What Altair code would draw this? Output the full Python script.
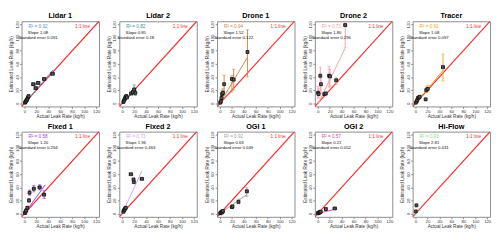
import altair as alt
import pandas as pd

# ---------------- data ----------------
panel_names = ["Lidar 1", "Lidar 2", "Drone 1", "Drone 2", "Tracer",
               "Fixed 1", "Fixed 2", "OGI 1", "OGI 2", "Hi-Flow"]
panel_colors = ["#5b8fd6", "#3a9a9a", "#d0884a", "#f4a0a8", "#f5a623",
                "#a040f0", "#c6a8e6", "#a0a0a0", "#e04aa8", "#8fd88f"]
r2_values = ["0.92", "0.82", "0.94", "0.73", "0.91", "0.58", "0.73", "0.92", "0.57", "0.93"]
slope_values = ["1.08", "0.85", "1.52", "1.80", "1.08", "1.20", "1.96", "0.63", "0.21", "2.81"]
se_values = ["0.091", "0.18", "0.122", "0.296", "0.097", "0.294", "0.463", "0.049", "0.052", "0.431"]

lidar1_x = [1, 2, 3, 4, 5, 6, 7, 19, 15, 23, 33, 47]
lidar1_y = [1, 2, 4, 5, 7, 9, 11, 23, 29, 31, 37, 45]
lidar1_xerr = [0.5, 0.5, 0.5, 1, 1, 1, 1, 3, 3, 3, 3, 3]
lidar1_ylo = [0, 1, 3, 4, 6, 8, 10, 21, 27, 29, 35, 43]
lidar1_yhi = [2, 3, 5, 6, 8, 10, 12, 25, 31, 33, 39, 47]
lidar1_fitx = [0, 48]
lidar1_fity = [-0.5, 51]

lidar2_x = [2, 3, 4, 5, 6, 7, 8, 15, 18, 20, 22]
lidar2_y = [2, 4, 6, 8, 10, 11, 9, 15, 17, 21, 16]
lidar2_xerr = [0.5, 0.5, 1, 1, 1, 1, 1, 2, 2, 2, 2]
lidar2_ylo = [1, 3, 5, 7, 9, 10, 8, 13, 15, 13, 12]
lidar2_yhi = [3, 5, 7, 9, 11, 12, 10, 17, 19, 28, 22]
lidar2_fitx = [0, 22]
lidar2_fity = [0.5, 19]

drone1_x = [0.5, 1.5, 2.5, 3.5, 5, 7, 20, 23, 46]
drone1_y = [1, 3, 8, 14, 16, 29, 37, 36, 78]
drone1_xerr = [0.5, 0.5, 0.5, 0.5, 1, 1, 1.5, 1.5, 1.5]
drone1_ylo = [0, 0, 2, 6, 8, 13, 17, 20, 40]
drone1_yhi = [3, 6, 14, 20, 22, 43, 42, 52, 112]
drone1_fitx = [0, 46]
drone1_fity = [0, 70]

drone2_x = [0.5, 1.5, 4.3, 5.4, 11, 13.5, 19, 20.5, 31, 46]
drone2_y = [16, 14, 42, 29, 14, 15, 42, 41, 35, 119]
drone2_xerr = [1, 1, 1, 1, 1.5, 1.5, 1.5, 1.5, 2, 2]
drone2_ylo = [8, 8, 17, 15, 12, 12, 24, 26, 29, 85]
drone2_yhi = [26, 22, 55, 40, 16, 17, 56, 52, 40, 124]
drone2_fitx = [0, 46]
drone2_fity = [-2, 84]

tracer_x = [0.5, 2, 3, 4, 6, 7, 17, 18, 20.5, 46]
tracer_y = [1, 3, 5, 8, 9, 10, 6, 20, 22, 55]
tracer_xerr = [0.5, 0.5, 0.5, 1, 1, 1, 1, 1.5, 1.5, 2]
tracer_ylo = [0, 2, 4, 6, 8, 8, 5, 16, 17, 34]
tracer_yhi = [2, 4, 6, 10, 11, 12, 7, 25, 27, 75]
tracer_fitx = [0, 46]
tracer_fity = [0, 50]

fixed1_x = [1, 2, 3, 4.9, 7.6, 8.6, 15.7, 25.4, 33]
fixed1_y = [1, 3, 5, 9, 20, 32, 38, 40, 29]
fixed1_xerr = [0.5, 0.5, 0.5, 1, 1, 1, 2, 2.5, 2.5]
fixed1_ylo = [0, 1, 3, 7, 18, 28, 33, 36, 23]
fixed1_yhi = [2, 5, 7, 11, 23, 36, 43, 44, 35]
fixed1_fitx = [0, 35]
fixed1_fity = [0, 44]

fixed2_x = [2, 3, 4, 5, 6, 14.6, 19.5, 19, 33]
fixed2_y = [3, 5, 6, 8, 9, 60, 48, 52, 53]
fixed2_xerr = [1, 1, 1, 1, 1, 3, 0.5, 0.5, 3]
fixed2_ylo = [2, 4, 5, 7, 8, 59, 47, 51, 52]
fixed2_yhi = [4, 6, 7, 9, 10, 61, 49, 53, 54]
fixed2_fitx = [0, 33]
fixed2_fity = [0, 65]

ogi1_x = [0.5, 1, 2, 3, 4, 5, 20, 21, 31, 45]
ogi1_y = [0.5, 1, 2, 3, 2, 4, 10, 11, 18, 34]
ogi1_xerr = [0.5, 0.5, 0.5, 0.5, 0.5, 1, 1.5, 1.5, 2, 2]
ogi1_ylo = [0, 0, 1, 2, 1, 3, 8, 9, 15, 26]
ogi1_yhi = [1, 2, 3, 4, 3, 5, 13, 13, 22, 40]
ogi1_fitx = [0, 45]
ogi1_fity = [0.5, 29]

ogi2_x = [0.5, 1, 2, 3, 4, 5, 13.5, 28.6]
ogi2_y = [0.5, 1.5, 1, 2, 2.5, 3, 7, 8]
ogi2_xerr = [0.5, 0.5, 0.5, 0.5, 0.5, 1, 2, 3]
ogi2_ylo = [0, 1, 0.5, 1.5, 2, 2.5, 6, 7]
ogi2_yhi = [1, 2, 1.5, 2.5, 3, 3.5, 8, 9]
ogi2_fitx = [0, 29]
ogi2_fity = [0.5, 6.6]

hiflow_x = [0.5, 1.6]
hiflow_y = [3.4, 12.6]
hiflow_xerr = [0.3, 0.5]
hiflow_ylo = [3, 12]
hiflow_yhi = [4, 13]
hiflow_fitx = [0, 2]
hiflow_fity = [0.5, 6]

one_to_one = [-10, 130]
ticks = [0, 20, 40, 60, 80, 100, 120]

panel_data = [
    (lidar1_x, lidar1_y, lidar1_xerr, lidar1_ylo, lidar1_yhi, lidar1_fitx, lidar1_fity),
    (lidar2_x, lidar2_y, lidar2_xerr, lidar2_ylo, lidar2_yhi, lidar2_fitx, lidar2_fity),
    (drone1_x, drone1_y, drone1_xerr, drone1_ylo, drone1_yhi, drone1_fitx, drone1_fity),
    (drone2_x, drone2_y, drone2_xerr, drone2_ylo, drone2_yhi, drone2_fitx, drone2_fity),
    (tracer_x, tracer_y, tracer_xerr, tracer_ylo, tracer_yhi, tracer_fitx, tracer_fity),
    (fixed1_x, fixed1_y, fixed1_xerr, fixed1_ylo, fixed1_yhi, fixed1_fitx, fixed1_fity),
    (fixed2_x, fixed2_y, fixed2_xerr, fixed2_ylo, fixed2_yhi, fixed2_fitx, fixed2_fity),
    (ogi1_x, ogi1_y, ogi1_xerr, ogi1_ylo, ogi1_yhi, ogi1_fitx, ogi1_fity),
    (ogi2_x, ogi2_y, ogi2_xerr, ogi2_ylo, ogi2_yhi, ogi2_fitx, ogi2_fity),
    (hiflow_x, hiflow_y, hiflow_xerr, hiflow_ylo, hiflow_yhi, hiflow_fitx, hiflow_fity),
]

# ---------------- chart ----------------
W, H = 80, 88
FONT = "Liberation Sans"
dom = [-4.8, 124.8]
sc = alt.Scale(domain=dom, nice=False, zero=False)

xaxis = alt.Axis(values=ticks, title="Actual Leak Rate (kg/h)")
yaxis = alt.Axis(values=ticks, title="Estimated Leak Rate (kg/h)",
                 labelAngle=270, labelAlign="center", labelBaseline="bottom",
                 labelPadding=0.5, titlePadding=0.5)


def X(f):
    return alt.X(f, type="quantitative", scale=sc, axis=xaxis)


def Y(f):
    return alt.Y(f, type="quantitative", scale=sc, axis=yaxis)


def panel(i):
    xs, ys, xe, ylo, yhi, fx, fy = panel_data[i]
    col = panel_colors[i]
    df = pd.DataFrame({
        "x": xs, "y": ys,
        "xlo": [a - b for a, b in zip(xs, xe)],
        "xhi": [a + b for a, b in zip(xs, xe)],
        "ylo": ylo, "yhi": yhi,
    })
    line_df = pd.DataFrame({"x": one_to_one, "y": one_to_one})
    fit_df = pd.DataFrame({"x": fx, "y": fy})

    ident = alt.Chart(line_df).mark_line(color="#ff2a2a", strokeWidth=1.2, clip=True).encode(
        x=X("x"), y=Y("y"))
    fit = alt.Chart(fit_df).mark_line(color=col, strokeWidth=1).encode(x=X("x"), y=Y("y"))
    vbar = alt.Chart(df).mark_rule(color=col, strokeWidth=1).encode(
        x=X("x"), y=Y("ylo"), y2="yhi")
    vcap_lo = alt.Chart(df).mark_tick(color=col, orient="horizontal", size=3.5, thickness=0.8).encode(
        x=X("x"), y=Y("ylo"))
    vcap_hi = alt.Chart(df).mark_tick(color=col, orient="horizontal", size=3.5, thickness=0.8).encode(
        x=X("x"), y=Y("yhi"))
    hbar = alt.Chart(df).mark_rule(color="#111111", strokeWidth=0.8).encode(
        x=X("xlo"), x2="xhi", y=Y("y"))
    hcap_lo = alt.Chart(df).mark_tick(color="#111111", orient="vertical", size=3.5, thickness=0.8).encode(
        x=X("xlo"), y=Y("y"))
    hcap_hi = alt.Chart(df).mark_tick(color="#111111", orient="vertical", size=3.5, thickness=0.8).encode(
        x=X("xhi"), y=Y("y"))
    pts = alt.Chart(df).mark_square(size=9, fill="#555555", stroke="#111111",
                                    strokeWidth=0.8, opacity=1).encode(x=X("x"), y=Y("y"))

    def label(text, px, py, color, size=4.4):
        return alt.Chart(pd.DataFrame({"t": [text]})).mark_text(
            font=FONT, fontSize=size, color=color, align="center", baseline="middle").encode(
            text="t:N", x=alt.value(px), y=alt.value(py))

    texts = [
        label("R² = " + r2_values[i], 17, 6, col, size=4.8),
        label("Slope " + slope_values[i], 17, 12, "#111111"),
        label("Standard error " + se_values[i], 17, 17, "#111111"),
        label("1:1 line", 63, 6, "#ff2a2a", size=4.8),
    ]

    return alt.layer(ident, fit, vbar, vcap_lo, vcap_hi, hbar, hcap_lo, hcap_hi, pts, *texts).properties(
        width=W, height=H,
        title=alt.TitleParams(panel_names[i], fontSize=7.5, fontWeight="bold", font=FONT,
                              offset=1, color="#000000"))


row1 = alt.hconcat(*[panel(i) for i in range(5)], spacing=5)
row2 = alt.hconcat(*[panel(i) for i in range(5, 10)], spacing=5)

chart = alt.vconcat(row1, row2, spacing=3).properties(padding=0).configure_view(
    stroke="#8a8a8a", strokeWidth=1
).configure_axis(
    grid=False, domain=False, tickSize=2, tickColor="#8a8a8a",
    labelFont=FONT, titleFont=FONT, labelFontSize=4.4, titleFontSize=4.8,
    titleFontWeight="normal", labelPadding=1, titlePadding=1,
    labelColor="#333333", titleColor="#333333",
)

chart.save("out.html", embed_options={"renderer": "svg", "actions": False})
